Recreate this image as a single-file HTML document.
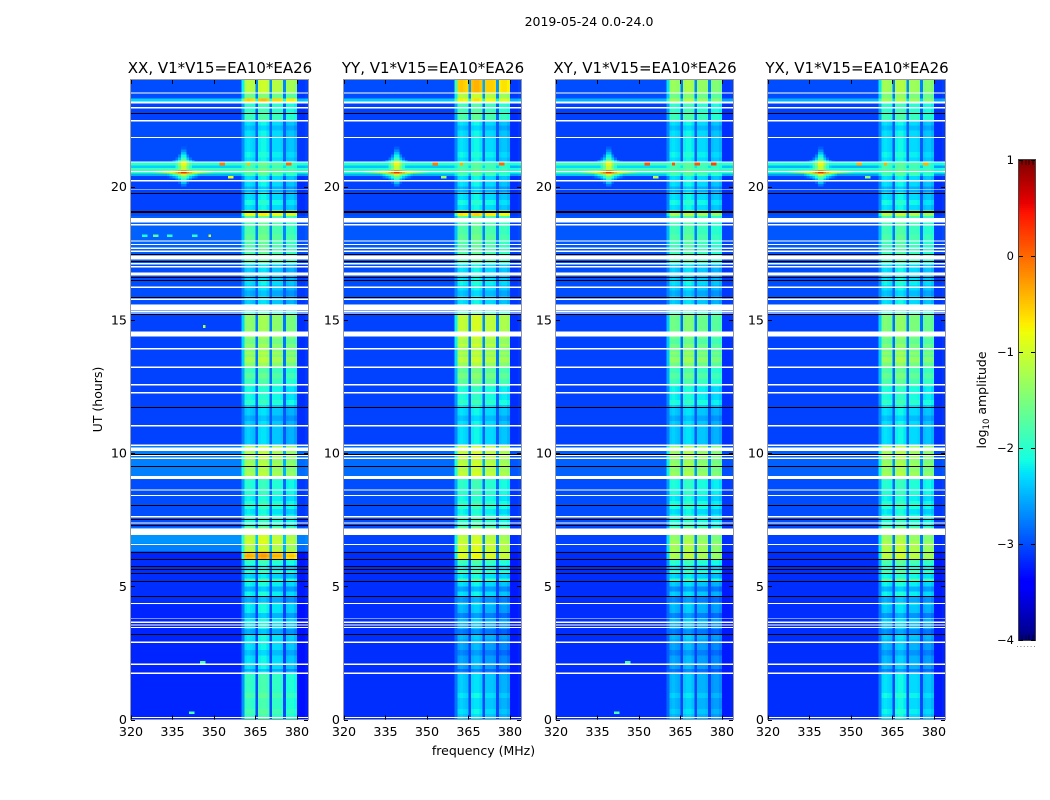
<!DOCTYPE html>
<html lang="en">
<head>
<meta charset="utf-8">
<title>2019-05-24 0.0-24.0</title>
<style>
html,body{margin:0;padding:0;background:#fff;width:1050px;height:800px;overflow:hidden}
svg{display:block;font-family:"DejaVu Sans","Liberation Sans",sans-serif}
</style>
</head>
<body>
<svg id="fig" xmlns="http://www.w3.org/2000/svg" width="1050" height="800" viewBox="0 0 1050 800">
<rect x="0" y="0" width="1050" height="800" fill="#fff"/>
<text x="589" y="26" font-size="12.5" text-anchor="middle">2019-05-24 0.0-24.0</text>
<text transform="translate(102,399.5) rotate(-90)" font-size="12.5" text-anchor="middle">UT (hours)</text>
<text x="483.5" y="755" font-size="12.5" text-anchor="middle">frequency (MHz)</text>
<text transform="translate(986,400) rotate(-90)" font-size="12.5" text-anchor="middle">log<tspan font-size="8.5" dy="3">10</tspan><tspan dy="-3"> amplitude</tspan></text>
<g id="panels"></g>
<g id="colorbar"></g>
</svg>
<script>
// ---- categories & tick labels ----
const panelTitles = ["XX, V1*V15=EA10*EA26","YY, V1*V15=EA10*EA26","XY, V1*V15=EA10*EA26","YX, V1*V15=EA10*EA26"];
const freqTicks = [320,335,350,365,380];
const hourTicks = [0,5,10,15,20];
const colorbarTicks = [1,0,-1,-2,-3,-4];

// ---- time segments (start hour) and their log10 amplitudes per polarisation ----
const segmentStarts = [0,1.8,3.0,4.33,5.2,5.98,6.28,6.58,6.92,7.25,8.98,9.13,10.29,11.79,12.55,13.2,14.04,15.16,15.57,17.07,18.57,18.87,19.06,20.37,20.5,20.7,20.8,20.9,22.47,23.18,23.3,23.52];
const bandXX = [-1.95,-2.3,-2.25,-2.2,-2.0,-0.5,-1.2,-1.0,-1.2,-2.05,-1.75,-1.25,-2.4,-2.15,-1.9,-1.45,-1.4,-2.0,-2.4,-1.8,-1.8,-0.85,-2.3,-1.9,-1.7,-1.9,-1.7,-2.3,-2.0,-0.6,-1.6,-1.15];
const bandYY = [-2.4,-2.6,-2.5,-2.3,-1.9,-1.0,-1.05,-1.05,-1.2,-2.0,-1.7,-1.1,-2.3,-2.1,-1.7,-1.35,-1.1,-1.9,-2.3,-1.8,-1.8,-0.7,-2.3,-1.9,-1.8,-1.9,-1.8,-2.3,-1.9,-0.8,-1.2,-0.55];
const bandXY = [-2.5,-2.6,-2.5,-2.4,-2.0,-1.3,-1.3,-1.3,-1.4,-2.1,-1.8,-1.35,-2.4,-2.2,-1.9,-1.6,-1.6,-2.0,-2.4,-1.9,-1.9,-1.3,-2.3,-1.9,-1.8,-1.9,-1.8,-2.3,-2.0,-1.3,-1.6,-1.35];
const bandYX = [-2.3,-2.5,-2.4,-2.2,-1.8,-1.2,-1.2,-1.25,-1.3,-2.05,-1.7,-1.3,-2.3,-2.1,-1.8,-1.55,-1.5,-1.95,-2.3,-1.9,-1.85,-1.2,-2.3,-1.9,-1.8,-1.9,-1.8,-2.3,-2.0,-1.3,-1.5,-1.3];
const bgXX = [-3.2,-3.2,-3.2,-3.15,-3.15,-3.2,-2.75,-2.65,-2.65,-3.0,-2.9,-2.75,-3.05,-3.05,-3.05,-3.05,-3.05,-2.9,-3.0,-2.9,-2.9,-3.0,-3.05,-2.5,-1.9,-2.35,-1.95,-3.0,-3.05,-2.35,-3.0,-3.0];
const bgYY = [-3.15,-3.15,-3.15,-3.15,-3.15,-3.15,-3.05,-3.05,-3.0,-3.0,-2.95,-2.85,-3.05,-3.05,-3.05,-3.05,-3.05,-2.95,-3.0,-2.95,-2.95,-3.0,-3.05,-2.5,-2.0,-2.4,-2.0,-3.05,-3.05,-2.4,-3.0,-3.0];
const bgXY = [-3.15,-3.15,-3.15,-3.15,-3.15,-3.15,-3.05,-3.05,-3.05,-3.0,-3.0,-2.9,-3.05,-3.05,-3.05,-3.05,-3.05,-2.95,-3.0,-2.95,-2.95,-3.0,-3.05,-2.4,-1.85,-2.3,-1.85,-3.05,-3.05,-2.5,-3.0,-3.0];
const bgYX = [-3.15,-3.15,-3.15,-3.15,-3.15,-3.15,-3.05,-3.05,-3.05,-3.0,-3.0,-2.9,-3.05,-3.05,-3.05,-3.05,-3.05,-2.95,-3.0,-2.95,-2.95,-3.0,-3.05,-2.6,-2.05,-2.5,-2.05,-3.05,-3.05,-2.5,-3.0,-3.0];

// ---- per-channel profile (one entry per MHz from 320 to 383) ----
const bandWeight = [0,0,0,0,0,0,0,0,0,0,0,0,0,0,0,0,0,0,0,0,0,0,0,0,0,0,0,0,0,0,0,0,0,0,0,0,0,0,0,0,
  0.45,1,1,1,1,0.15,1,1,1,1,0.18,1,1,1,1,0.15,1,1,1,1,0,0,0,0];
const channelOffset = [0,0,0,0,0,0,0,0,0,0,0,0,0,0,0,0,0,0,0,0,0,0,0,0,0,0,0,0,0,0,0,0,0,0,0,0,0,0,0,0,
  0,0,0.05,0,-0.05,0,0.1,0.15,0.15,0.05,0,0,0,0,-0.05,0,-0.15,-0.1,-0.1,-0.2,-0.1,-0.1,-0.1,-0.05];

// ---- horizontal band streaks: hour, log10 change ----
const streakHours = [0.3,0.9,1.8,2.5,3.3,3.9,4.5,4.9,5.4,5.7,6.15,6.8,7.8,8.3,9.4,9.7,11.3,11.9,12.9,13.5,13.75,14.2,16.0,16.4,18.1,19.4,19.9,21.2,22.2,22.6];
const streakDeltas = [0.1,0.12,-0.25,-0.15,-0.3,-0.25,-0.35,-0.3,-0.35,-0.3,0.1,-0.1,-0.2,-0.15,-0.1,-0.1,-0.15,0.12,0.15,0.2,0.15,-0.15,-0.15,0.1,0.1,0.15,-0.2,0.1,-0.15,0.1];

// ---- flagged time ranges (hours) ----
const whiteStarts = [0.05,1.71,2.05,2.87,3.43,3.52,3.62,4.33,6.54,6.93,7.35,7.59,8.38,8.59,9.03,9.78,9.88,10.08,10.27,11.0,12.24,12.54,13.2,13.89,14.38,15.24,15.30,15.35,15.75,16.2,16.66,16.97,17.08,17.26,17.55,17.66,17.8,17.93,18.54,18.65,20.19,20.55,20.91,21.82,22.44,22.93,23.12,23.49];
const whiteEnds = [0.1,1.76,2.1,2.92,3.48,3.57,3.67,4.38,6.59,7.17,7.4,7.64,8.43,8.64,9.13,9.83,9.93,10.2,10.32,11.05,12.29,12.59,13.25,13.94,14.56,15.28,15.34,15.57,15.8,16.25,16.77,17.02,17.13,17.41,17.6,17.71,17.85,17.98,18.59,18.83,20.24,20.59,20.95,21.87,22.49,22.98,23.19,23.54];
const blackHours = [3.22,4.62,5.19,5.5,5.65,5.75,6.04,6.27,7.3,7.53,8.05,9.53,9.98,11.72,15.2,15.87,16.51,16.62,17.22,17.46,19.06,19.09,19.76,22.76];

// ---- bright point sources: frequency, hour, peak, wings, applied to every panel ----
const sourceFreqs = [339,339];
const sourceHours = [20.55,20.82];
const sourcePeaks = [0.9,0.6];
const sourceWingFreqs = [14,8];
const sourceWingHours = [0.5,0.8];

// ---- isolated spots: panel index, frequency, hour, value ----
const spotPanels = [0,0,0,0,0,0,0,0,0,1,1,1,1,2,2,2,2,2,3,3,3,3,0,0,0,2,2];
const spotFreqs = [325,329,334,343,348.5,346.4,353,362.6,377,353,362.6,377,356,353,362.6,371,377,356,353,362.6,377,356,356,346,342,346,342];
const spotHours = [18.2,18.2,18.2,18.2,18.2,14.72,20.82,20.82,20.82,20.82,20.82,20.82,20.33,20.82,20.82,20.82,20.82,20.33,20.82,20.82,20.82,20.33,20.33,2.15,0.24,2.15,0.24];
const spotValues = [-2.1,-1.7,-2.0,-2.0,-1.0,-1.2,-0.1,-0.5,0,-0.1,-0.4,0,-1.3,0.1,0.1,0.1,0.2,-1.1,-0.4,-0.4,-0.4,-1.4,-0.8,-1.8,-1.8,-1.8,-1.8];

// ---- axis functions ----
const panelLefts = [131,344,556,768];
const plotTop = 80, plotBottom = 719.5, plotWidth = 177;
const freqMin = 320, freqMax = 384, hourMax = 24;
const NS = "http://www.w3.org/2000/svg";
function xScale(panel, mhz){ return panelLefts[panel] + (mhz - freqMin) / (freqMax - freqMin) * plotWidth; }
function yScale(hour){ return plotBottom - hour / hourMax * (plotBottom - plotTop); }
function cbScale(v){ return 160 + (1 - v) / 5 * 480; }

function interp(t, pts){
  for(let i=1;i<pts.length;i++){
    if(t<=pts[i][0]){
      const a=pts[i-1],b=pts[i];
      return a[1]+(b[1]-a[1])*(t-a[0])/(b[0]-a[0]);
    }
  }
  return pts[pts.length-1][1];
}
function jet(v){
  const t=Math.max(0,Math.min(1,(v+4)/5));
  const r=interp(t,[[0,0],[0.35,0],[0.66,1],[0.89,1],[1,0.5]]);
  const g=interp(t,[[0,0],[0.125,0],[0.375,1],[0.64,1],[0.91,0],[1,0]]);
  const b=interp(t,[[0,0.5],[0.11,1],[0.34,1],[0.65,0],[1,0]]);
  return "rgb("+Math.round(r*255)+","+Math.round(g*255)+","+Math.round(b*255)+")";
}
function mk(tag, parent, attrs){
  const el=document.createElementNS(NS,tag);
  for(const k in attrs) el.setAttribute(k,attrs[k]);
  parent.appendChild(el);
  return el;
}
const bandByPanel=[bandXX,bandYY,bandXY,bandYX];
const bgByPanel=[bgXX,bgYY,bgXY,bgYX];
const rowHours=0.1;
function segmentIndex(h){
  let s=0;
  for(let i=0;i<segmentStarts.length;i++){ if(h>=segmentStarts[i]) s=i; }
  return s;
}
function cellValue(p,ch,h){
  const s=segmentIndex(h);
  const bg=bgByPanel[p][s], band=bandByPanel[p][s];
  let v=bg+(band-bg)*bandWeight[ch]+channelOffset[ch];
  if(bandWeight[ch]>0.5){
    for(let k=0;k<streakHours.length;k++){
      if(Math.abs(streakHours[k]-h)<rowHours*0.75) v+=streakDeltas[k];
    }
  }
  const mhz=freqMin+ch+0.5;
  for(let k=0;k<sourceFreqs.length;k++){
    const dx=Math.abs(mhz-sourceFreqs[k])/sourceWingFreqs[k], dy=Math.abs(h-sourceHours[k])/sourceWingHours[k];
    const d=Math.sqrt(dx)+Math.sqrt(dy);
    v=Math.max(v,sourcePeaks[k]-3.1*d);
  }
  for(let k=0;k<spotPanels.length;k++){
    if(spotPanels[k]===p && Math.abs(spotFreqs[k]-mhz)<=0.5 && Math.abs(spotHours[k]-h)<=rowHours/2) v=Math.max(v,spotValues[k]);
  }
  return v;
}

const panelsRoot=document.getElementById("panels");
panelTitles.forEach(function(title,p){
  const g=mk("g",panelsRoot,{});
  
  

  const heat=mk("g",g,{"shape-rendering":"crispEdges"});
  
  
  const nRows=Math.round(hourMax/rowHours);
  const frag=document.createDocumentFragment();
  for(let r=0;r<nRows;r++){
    const h=(r+0.5)*rowHours;
    const y1=yScale((r+1)*rowHours), y0=yScale(r*rowHours);
    let runStart=0, runFill=null;
    for(let ch=0;ch<=bandWeight.length;ch++){
      const fill=ch<bandWeight.length?jet(cellValue(p,ch,h)):null;
      if(fill!==runFill){
        if(runFill!==null){
          const x0=xScale(p,freqMin+runStart), x1=xScale(p,freqMin+ch);
          const cell=document.createElementNS(NS,"rect");
          cell.setAttribute('x',x0.toFixed(2));
          cell.setAttribute('y',y1.toFixed(2));
          cell.setAttribute('width',(x1-x0).toFixed(2));
          cell.setAttribute('height',(y0-y1).toFixed(2));
          cell.setAttribute('fill',runFill);
          
          
          frag.appendChild(cell);
        }
        runStart=ch; runFill=fill;
      }
    }
  }
  heat.appendChild(frag);

  const flags=mk("g",g,{"shape-rendering":"crispEdges"});
  
  
  whiteStarts.forEach(function(s,i){
    const yTop=yScale(whiteEnds[i]), yBot=yScale(s);
    const band=mk("rect",flags,{x:panelLefts[p],y:yTop.toFixed(2),width:plotWidth,height:Math.max(1.1,yBot-yTop).toFixed(2),fill:"#fff"});
    
    
  });
  blackHours.forEach(function(hb){
    const line=mk("rect",flags,{x:panelLefts[p],y:Math.round(yScale(hb)),width:plotWidth,height:1,fill:"#000"});
    
    
  });

  const frame=mk("rect",g,{x:panelLefts[p]-0.5,y:plotTop-0.5,width:plotWidth+1,height:plotBottom-plotTop+0.5,fill:"none",stroke:"#9a9a9a","stroke-width":1,"shape-rendering":"crispEdges"});
  
  

  const ticks=mk("g",g,{stroke:"#000","stroke-width":0.8,"shape-rendering":"crispEdges"});
  
  
  const labels=mk("g",g,{"font-size":"12.7",fill:"#000"});
  
  
  freqTicks.forEach(function(f){
    const x=Math.round(xScale(p,f))+0.5;
    const tb=mk("line",ticks,{x1:x,x2:x,y1:plotBottom-4,y2:plotBottom});
    
    
    const tt=mk("line",ticks,{x1:x,x2:x,y1:plotTop,y2:plotTop+4});
    
    
    const lab=mk("text",labels,{x:xScale(p,f),y:736,"text-anchor":"middle"});
    
    
    lab.textContent=String(f);
  });
  hourTicks.forEach(function(hr){
    const y=Math.round(yScale(hr))+0.5;
    const tl=mk("line",ticks,{x1:panelLefts[p],x2:panelLefts[p]+4,y1:y,y2:y});
    
    
    const tr=mk("line",ticks,{x1:panelLefts[p]+plotWidth-4,x2:panelLefts[p]+plotWidth,y1:y,y2:y});
    
    
    const lab=mk("text",labels,{x:panelLefts[p]-4,y:yScale(hr)+4.5,"text-anchor":"end"});
    
    
    lab.textContent=String(hr);
  });

  const t=mk("text",g,{x:panelLefts[p]+plotWidth/2+0.5,y:73,"font-size":"15","text-anchor":"middle"});
  
  
  t.textContent=title;
});

// ---- colorbar ----
const cb=document.getElementById("colorbar");
const cbLeft=1019, cbWidth=16;
const cbSteps=[];
for(let i=0;i<240;i++){ cbSteps.push(i); }
const cbRects=mk("g",cb,{"shape-rendering":"crispEdges"});


cbSteps.forEach(function(i){
  const vTop=1-i*5/240, vBot=1-(i+1)*5/240;
  const s=mk("rect",cbRects,{x:cbLeft,y:cbScale(vTop),width:cbWidth,height:cbScale(vBot)-cbScale(vTop),fill:jet((vTop+vBot)/2)});
  
  
});
const cbFrame=mk("rect",cb,{x:cbLeft-0.5,y:159.5,width:cbWidth+1,height:481,fill:"none",stroke:"#444","stroke-width":1,"shape-rendering":"crispEdges"});


colorbarTicks.forEach(function(v){
  const y=Math.round(cbScale(v))+0.5;
  const a=mk("line",cb,{x1:cbLeft,x2:cbLeft+4,y1:y,y2:y,stroke:"#000","stroke-width":0.8,"shape-rendering":"crispEdges"});
  
  
  const b=mk("line",cb,{x1:cbLeft+cbWidth-4,x2:cbLeft+cbWidth,y1:y,y2:y,stroke:"#000","stroke-width":0.8,"shape-rendering":"crispEdges"});
  
  
  const lab=mk("text",cb,{x:1014,y:cbScale(v)+4,"font-size":"11.5","text-anchor":"end"});
  
  
  lab.textContent=String(v).replace("-","\u2212");
});
const cbMinorX=[3,7,10,14];
cbMinorX.forEach(function(dx){
  const top=mk("line",cb,{x1:cbLeft+dx,x2:cbLeft+dx,y1:160,y2:165,stroke:"#000","stroke-width":0.7});
  
  
  const bot=mk("line",cb,{x1:cbLeft+dx,x2:cbLeft+dx,y1:635,y2:640,stroke:"#000","stroke-width":0.7});
  
  
});
const dots=mk("line",cb,{x1:1017,x2:1035,y1:646.5,y2:646.5,stroke:"#888","stroke-width":1,"stroke-dasharray":"1 2.4"});


</script>
</body>
</html>
